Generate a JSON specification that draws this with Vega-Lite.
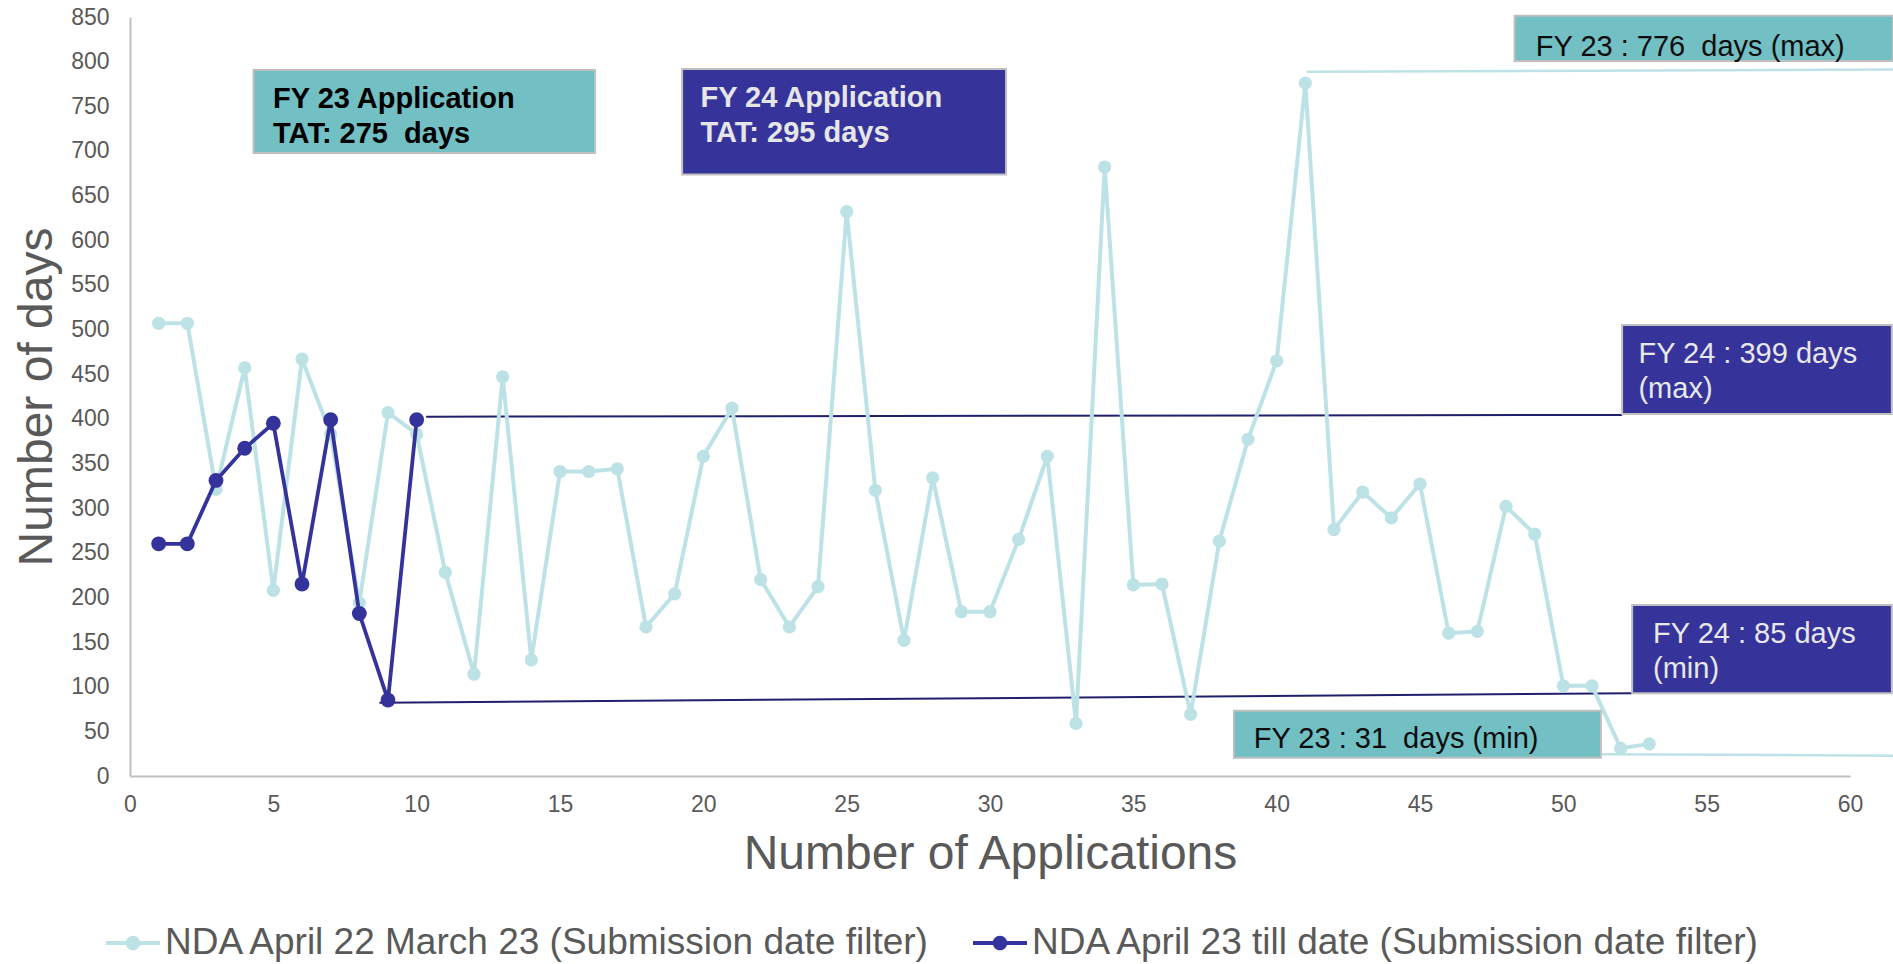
{
  "$schema": "https://vega.github.io/schema/vega-lite/v6.json",
  "width": 1720,
  "height": 759,
  "autosize": {"type": "none"},
  "padding": {"left": 130, "top": 17, "right": 43, "bottom": 188},
  "background": "white",
  "config": {
    "view": {"stroke": null},
    "font": "Liberation Sans",
    "axis": {
      "grid": false,
      "ticks": false,
      "domainColor": "#bfbfbf",
      "domainWidth": 2,
      "labelFont": "Liberation Sans",
      "labelFontSize": 23,
      "labelColor": "#595959",
      "titleFont": "Liberation Sans",
      "titleFontSize": 48,
      "titleFontWeight": "normal",
      "titleColor": "#595959",
      "labelOverlap": false
    }
  },
  "datasets": {
    "series": [
      {"x": 1, "y": 507, "series": "NDA April 22 March 23 (Submission date filter)"},
      {"x": 2, "y": 507, "series": "NDA April 22 March 23 (Submission date filter)"},
      {"x": 3, "y": 321, "series": "NDA April 22 March 23 (Submission date filter)"},
      {"x": 4, "y": 457, "series": "NDA April 22 March 23 (Submission date filter)"},
      {"x": 5, "y": 208, "series": "NDA April 22 March 23 (Submission date filter)"},
      {"x": 6, "y": 467, "series": "NDA April 22 March 23 (Submission date filter)"},
      {"x": 7, "y": 383, "series": "NDA April 22 March 23 (Submission date filter)"},
      {"x": 8, "y": 194, "series": "NDA April 22 March 23 (Submission date filter)"},
      {"x": 9, "y": 407, "series": "NDA April 22 March 23 (Submission date filter)"},
      {"x": 10, "y": 383, "series": "NDA April 22 March 23 (Submission date filter)"},
      {"x": 11, "y": 228, "series": "NDA April 22 March 23 (Submission date filter)"},
      {"x": 12, "y": 114, "series": "NDA April 22 March 23 (Submission date filter)"},
      {"x": 13, "y": 447, "series": "NDA April 22 March 23 (Submission date filter)"},
      {"x": 14, "y": 130, "series": "NDA April 22 March 23 (Submission date filter)"},
      {"x": 15, "y": 341, "series": "NDA April 22 March 23 (Submission date filter)"},
      {"x": 16, "y": 341, "series": "NDA April 22 March 23 (Submission date filter)"},
      {"x": 17, "y": 344, "series": "NDA April 22 March 23 (Submission date filter)"},
      {"x": 18, "y": 167, "series": "NDA April 22 March 23 (Submission date filter)"},
      {"x": 19, "y": 204, "series": "NDA April 22 March 23 (Submission date filter)"},
      {"x": 20, "y": 358, "series": "NDA April 22 March 23 (Submission date filter)"},
      {"x": 21, "y": 412, "series": "NDA April 22 March 23 (Submission date filter)"},
      {"x": 22, "y": 220, "series": "NDA April 22 March 23 (Submission date filter)"},
      {"x": 23, "y": 167, "series": "NDA April 22 March 23 (Submission date filter)"},
      {"x": 24, "y": 212, "series": "NDA April 22 March 23 (Submission date filter)"},
      {"x": 25, "y": 632, "series": "NDA April 22 March 23 (Submission date filter)"},
      {"x": 26, "y": 320, "series": "NDA April 22 March 23 (Submission date filter)"},
      {"x": 27, "y": 152, "series": "NDA April 22 March 23 (Submission date filter)"},
      {"x": 28, "y": 334, "series": "NDA April 22 March 23 (Submission date filter)"},
      {"x": 29, "y": 184, "series": "NDA April 22 March 23 (Submission date filter)"},
      {"x": 30, "y": 184, "series": "NDA April 22 March 23 (Submission date filter)"},
      {"x": 31, "y": 265, "series": "NDA April 22 March 23 (Submission date filter)"},
      {"x": 32, "y": 358, "series": "NDA April 22 March 23 (Submission date filter)"},
      {"x": 33, "y": 59, "series": "NDA April 22 March 23 (Submission date filter)"},
      {"x": 34, "y": 682, "series": "NDA April 22 March 23 (Submission date filter)"},
      {"x": 35, "y": 214, "series": "NDA April 22 March 23 (Submission date filter)"},
      {"x": 36, "y": 215, "series": "NDA April 22 March 23 (Submission date filter)"},
      {"x": 37, "y": 69, "series": "NDA April 22 March 23 (Submission date filter)"},
      {"x": 38, "y": 263, "series": "NDA April 22 March 23 (Submission date filter)"},
      {"x": 39, "y": 377, "series": "NDA April 22 March 23 (Submission date filter)"},
      {"x": 40, "y": 465, "series": "NDA April 22 March 23 (Submission date filter)"},
      {"x": 41, "y": 776, "series": "NDA April 22 March 23 (Submission date filter)"},
      {"x": 42, "y": 276, "series": "NDA April 22 March 23 (Submission date filter)"},
      {"x": 43, "y": 318, "series": "NDA April 22 March 23 (Submission date filter)"},
      {"x": 44, "y": 289, "series": "NDA April 22 March 23 (Submission date filter)"},
      {"x": 45, "y": 327, "series": "NDA April 22 March 23 (Submission date filter)"},
      {"x": 46, "y": 160, "series": "NDA April 22 March 23 (Submission date filter)"},
      {"x": 47, "y": 162, "series": "NDA April 22 March 23 (Submission date filter)"},
      {"x": 48, "y": 302, "series": "NDA April 22 March 23 (Submission date filter)"},
      {"x": 49, "y": 271, "series": "NDA April 22 March 23 (Submission date filter)"},
      {"x": 50, "y": 101, "series": "NDA April 22 March 23 (Submission date filter)"},
      {"x": 51, "y": 101, "series": "NDA April 22 March 23 (Submission date filter)"},
      {"x": 52, "y": 31, "series": "NDA April 22 March 23 (Submission date filter)"},
      {"x": 53, "y": 36, "series": "NDA April 22 March 23 (Submission date filter)"},
      {"x": 1, "y": 260, "series": "NDA April 23 till date (Submission date filter)"},
      {"x": 2, "y": 260, "series": "NDA April 23 till date (Submission date filter)"},
      {"x": 3, "y": 331, "series": "NDA April 23 till date (Submission date filter)"},
      {"x": 4, "y": 367, "series": "NDA April 23 till date (Submission date filter)"},
      {"x": 5, "y": 395, "series": "NDA April 23 till date (Submission date filter)"},
      {"x": 6, "y": 215, "series": "NDA April 23 till date (Submission date filter)"},
      {"x": 7, "y": 399, "series": "NDA April 23 till date (Submission date filter)"},
      {"x": 8, "y": 182, "series": "NDA April 23 till date (Submission date filter)"},
      {"x": 9, "y": 85, "series": "NDA April 23 till date (Submission date filter)"},
      {"x": 10, "y": 399, "series": "NDA April 23 till date (Submission date filter)"}
    ],
    "rules": [
      {"fy": "FY23", "x": 41.05, "y": 788.6, "x2": 61.5, "y2": 791.3},
      {"fy": "FY23", "x": 51.3, "y": 24.3, "x2": 61.5, "y2": 22.8},
      {"fy": "FY24", "x": 10.33, "y": 402.4, "x2": 52.05, "y2": 404.3},
      {"fy": "FY24", "x": 8.7, "y": 82.1, "x2": 52.4, "y2": 92.6}
    ],
    "boxes": [
      {"fy": "FY23", "x": 4.31, "x2": 16.22, "y": 790.7, "y2": 697.7},
      {"fy": "FY24", "x": 19.26, "x2": 30.56, "y": 791.8, "y2": 673.6},
      {"fy": "FY23", "x": 48.3, "x2": 61.5, "y": 851.5, "y2": 800.8},
      {"fy": "FY24", "x": 52.05, "x2": 61.46, "y": 505, "y2": 405.4},
      {"fy": "FY24", "x": 52.4, "x2": 61.46, "y": 191.5, "y2": 92.6},
      {"fy": "FY23", "x": 38.51, "x2": 51.31, "y": 73.1, "y2": 20.5}
    ],
    "texts": [
      {"fy": "FY23", "kind": "tat", "x": 4.99, "y": 773.4, "label": "FY 23 Application\nTAT: 275 \u00a0days"},
      {"fy": "FY24", "kind": "tat", "x": 19.9, "y": 775.4, "label": "FY 24 Application\nTAT: 295 days"},
      {"fy": "FY23", "kind": "range", "x": 49.04, "y": 832.4, "label": "FY 23 : 776 \u00a0days (max)"},
      {"fy": "FY24", "kind": "range", "x": 52.62, "y": 488.5, "label": "FY 24 : 399 days\n(max)"},
      {"fy": "FY24", "kind": "range", "x": 53.13, "y": 174.3, "label": "FY 24 : 85 days\n(min)"},
      {"fy": "FY23", "kind": "range", "x": 39.2, "y": 56.7, "label": "FY 23 : 31 \u00a0days (min)"}
    ]
  },
  "encoding": {
    "x": {
      "field": "x",
      "type": "quantitative",
      "title": "Number of Applications",
      "scale": {"domain": [0, 60], "nice": false, "zero": false},
      "axis": {
        "values": [0, 5, 10, 15, 20, 25, 30, 35, 40, 45, 50, 55, 60],
        "labelFlush": false,
        "labelPadding": 17,
        "titlePadding": 14
      }
    },
    "y": {
      "field": "y",
      "type": "quantitative",
      "title": "Number of days",
      "scale": {"domain": [0, 850], "nice": false, "zero": false},
      "axis": {
        "values": [0, 50, 100, 150, 200, 250, 300, 350, 400, 450, 500, 550, 600, 650, 700, 750, 800, 850],
        "labelPadding": 21,
        "titlePadding": 9
      }
    }
  },
  "layer": [
    {
      "data": {"name": "rules"},
      "transform": [{"filter": "datum.fy === 'FY23'"}],
      "mark": {"type": "rule", "color": "#bde2e6", "strokeWidth": 2.5, "clip": false},
      "encoding": {"x2": {"field": "x2"}, "y2": {"field": "y2"}}
    },
    {
      "data": {"name": "rules"},
      "transform": [{"filter": "datum.fy === 'FY24'"}],
      "mark": {"type": "rule", "color": "#1f1f6b", "strokeWidth": 2, "clip": false},
      "encoding": {"x2": {"field": "x2"}, "y2": {"field": "y2"}}
    },
    {
      "data": {"name": "series"},
      "transform": [{"filter": "datum.series === 'NDA April 22 March 23 (Submission date filter)'"}],
      "mark": {"type": "point", "shape": "circle", "filled": true, "opacity": 1, "size": 175},
      "encoding": {
        "color": {
          "field": "series",
          "type": "nominal",
          "scale": {
            "domain": ["NDA April 22 March 23 (Submission date filter)", "NDA April 23 till date (Submission date filter)"],
            "range": ["#bde2e6", "#34339b"]
          },
          "legend": {
            "orient": "none",
            "legendX": -24,
            "legendY": 899,
            "direction": "horizontal",
            "title": null,
            "labelFont": "Liberation Sans",
            "labelFontSize": 37,
            "labelColor": "#595959",
            "labelLimit": 2000,
            "symbolType": "M-1,-0.075H-0.25V0.075H-1Z M0.25,-0.075H1V0.075H0.25Z M0.27,0A0.27,0.27,0,1,1,-0.27,0A0.27,0.27,0,1,1,0.27,0Z",
            "symbolSize": 2916,
            "symbolStrokeWidth": 0,
            "symbolOpacity": 1,
            "columnPadding": 40,
            "labelOffset": 5,
            "padding": 0
          }
        }
      }
    },
    {
      "data": {"name": "series"},
      "transform": [{"filter": "datum.series === 'NDA April 22 March 23 (Submission date filter)'"}],
      "mark": {"type": "line", "strokeWidth": 4},
      "encoding": {"color": {"field": "series", "type": "nominal"}}
    },
    {
      "data": {"name": "series"},
      "transform": [{"filter": "datum.series === 'NDA April 23 till date (Submission date filter)'"}],
      "mark": {"type": "line", "strokeWidth": 3.8},
      "encoding": {"color": {"field": "series", "type": "nominal"}}
    },
    {
      "data": {"name": "series"},
      "transform": [{"filter": "datum.series === 'NDA April 23 till date (Submission date filter)'"}],
      "mark": {"type": "point", "shape": "circle", "filled": true, "opacity": 1, "size": 220},
      "encoding": {"color": {"field": "series", "type": "nominal"}}
    },
    {
      "data": {"name": "boxes"},
      "transform": [{"filter": "datum.fy === 'FY23'"}],
      "mark": {"type": "rect", "fill": "#72bfc4", "stroke": "#bfbfbf", "strokeWidth": 2, "clip": false},
      "encoding": {"x2": {"field": "x2"}, "y2": {"field": "y2"}}
    },
    {
      "data": {"name": "boxes"},
      "transform": [{"filter": "datum.fy === 'FY24'"}],
      "mark": {"type": "rect", "fill": "#36349a", "stroke": "#bfbfbf", "strokeWidth": 2, "clip": false},
      "encoding": {"x2": {"field": "x2"}, "y2": {"field": "y2"}}
    },
    {
      "data": {"name": "texts"},
      "transform": [{"filter": "datum.fy === 'FY23' && datum.kind === 'tat'"}],
      "mark": {"type": "text", "align": "left", "baseline": "top", "font": "Liberation Sans", "fontSize": 29, "fontWeight": "bold", "color": "#000000", "lineBreak": "\n", "lineHeight": 35, "clip": false},
      "encoding": {"text": {"field": "label"}}
    },
    {
      "data": {"name": "texts"},
      "transform": [{"filter": "datum.fy === 'FY24' && datum.kind === 'tat'"}],
      "mark": {"type": "text", "align": "left", "baseline": "top", "font": "Liberation Sans", "fontSize": 29, "fontWeight": "bold", "color": "#e6e6e6", "lineBreak": "\n", "lineHeight": 35, "clip": false},
      "encoding": {"text": {"field": "label"}}
    },
    {
      "data": {"name": "texts"},
      "transform": [{"filter": "datum.fy === 'FY23' && datum.kind === 'range'"}],
      "mark": {"type": "text", "align": "left", "baseline": "top", "font": "Liberation Sans", "fontSize": 29, "fontWeight": "normal", "color": "#0d0d0d", "lineBreak": "\n", "lineHeight": 35, "clip": false},
      "encoding": {"text": {"field": "label"}}
    },
    {
      "data": {"name": "texts"},
      "transform": [{"filter": "datum.fy === 'FY24' && datum.kind === 'range'"}],
      "mark": {"type": "text", "align": "left", "baseline": "top", "font": "Liberation Sans", "fontSize": 29, "fontWeight": "normal", "color": "#e8e8e8", "lineBreak": "\n", "lineHeight": 35, "clip": false},
      "encoding": {"text": {"field": "label"}}
    }
  ]
}
